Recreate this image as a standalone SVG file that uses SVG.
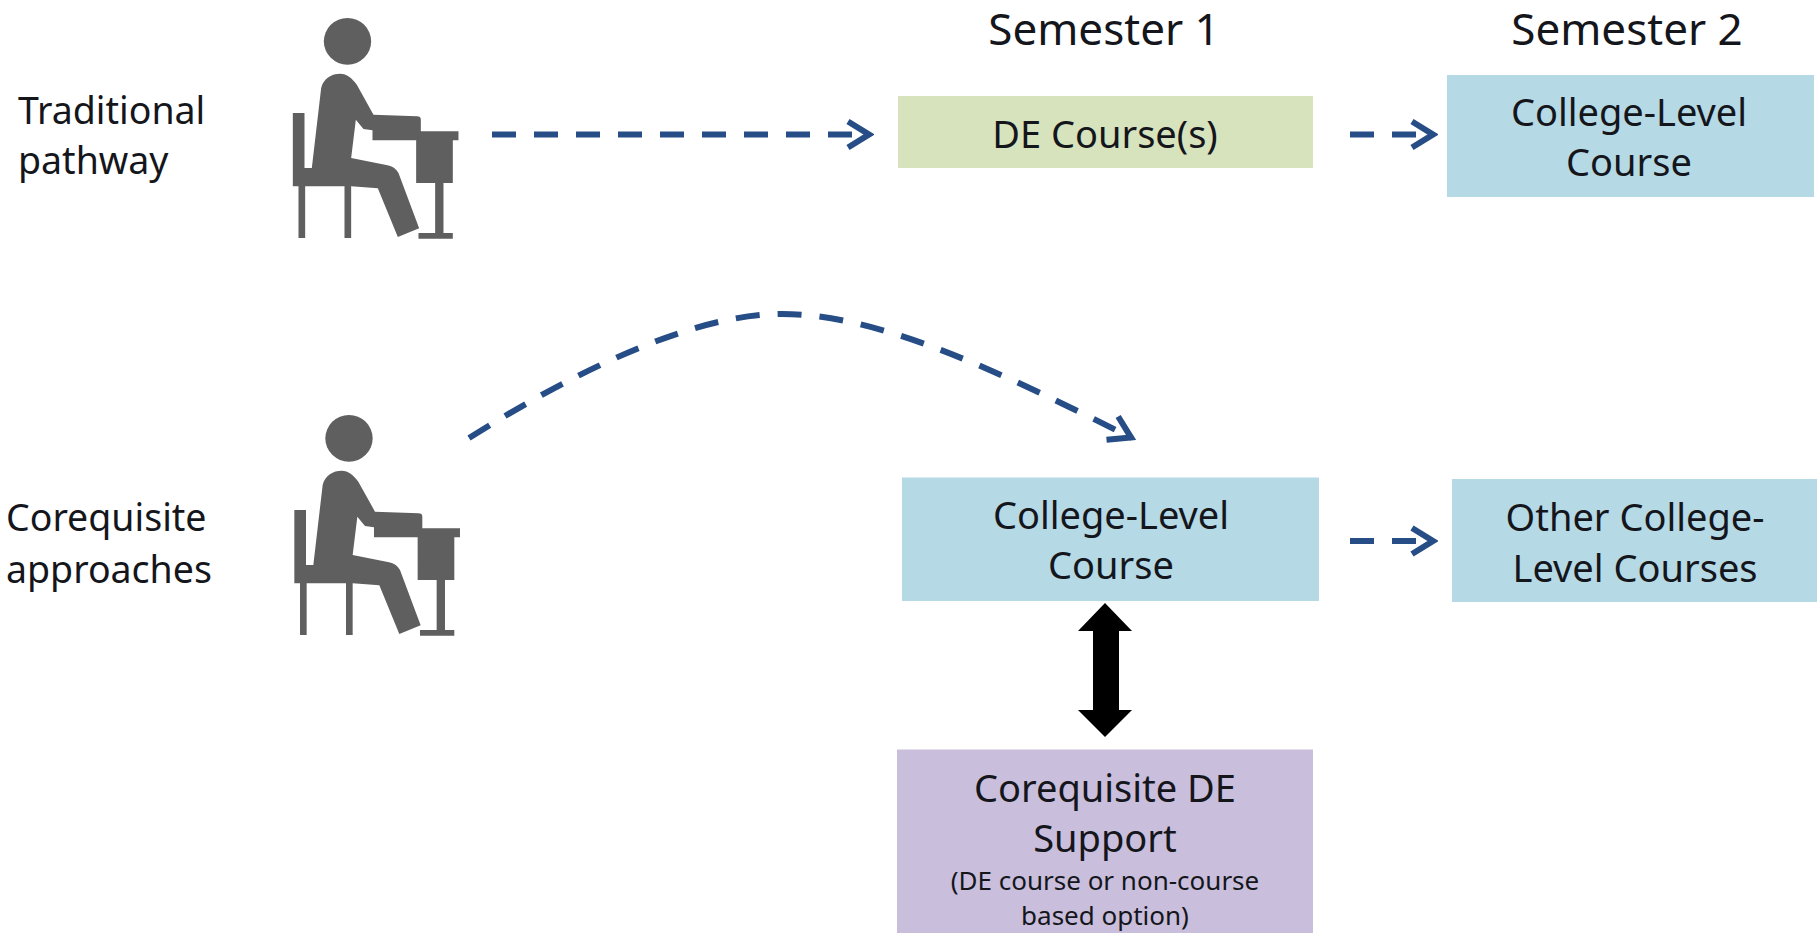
<svg xmlns="http://www.w3.org/2000/svg" width="1817" height="933" viewBox="0 0 1817 933">
<style>
text{font-family:"Noto Sans","Liberation Sans",sans-serif;fill:#14161c;text-anchor:middle}
.lg{font-size:38px}
.hd{font-size:44px}
.sm{font-size:26px}
.st{text-anchor:start;font-size:37.500px}
.box-g{fill:#d7e3bc}
.box-b{fill:#b5d9e5}
.box-p{fill:#c9bedb}
.dash{fill:none;stroke:#264d86;stroke-width:6;stroke-dasharray:24 18;marker-end:url(#chev)}
.fig{fill:#5f5f5f}
</style>
<defs>
<marker id="chev" markerUnits="userSpaceOnUse" markerWidth="34" markerHeight="36" viewBox="0 0 34 36" refX="30" refY="18" orient="auto">
<path d="M8,5 L29,18 L8,31" fill="none" stroke="#264d86" stroke-width="6"/>
</marker>
<g id="person" class="fig" transform="translate(270,400) scale(.3333)">
<ellipse cx="237" cy="115" rx="71" ry="70"/>
<path d="M215,212 C190,212 165,225 158,255 L130,495 L108,495 L108,330 L73,330 L73,550 L90,550 L90,705 L110,705 L110,550 L228,550 L228,705 L248,705 L248,550 L328,556 L388,702 L452,676 L390,510 C382,497 372,490 357,487 L248,465 L262,350 L285,378 L312,382 L312,412 L443,412 L443,540 L500,540 L500,690 L450,690 L450,707 L553,707 L553,690 L525,690 L525,540 L553,540 L553,412 L570,412 L570,385 L457,385 L457,350 Q457,340 445,340 L315,335 L265,245 C250,225 235,212 215,212 Z"/>
</g>
</defs>

<g id="header-1"><text class="hd" x="1104" y="45">Semester 1</text></g>
<g id="header-2"><text class="hd" x="1627" y="45">Semester 2</text></g>

<g id="label-traditional">
<text class="st" x="18" y="124">Traditional</text>
<text class="st" x="18" y="174">pathway</text>
</g>
<g id="label-corequisite">
<text class="st" x="6" y="531">Corequisite</text>
<text class="st" x="6" y="583">approaches</text>
</g>

<g id="person-1"><use href="#person" transform="translate(-1.5,-397)"/></g>
<g id="person-2"><use href="#person"/></g>

<g id="de-course">
<rect class="box-g" x="898" y="96" width="415" height="72"/>
<text class="lg" x="1105" y="148">DE Course(s)</text>
</g>
<g id="college-level-2">
<rect class="box-b" x="1447" y="75" width="367" height="122"/>
<text class="lg" x="1629" y="126">College-Level</text>
<text class="lg" x="1629" y="176">Course</text>
</g>
<g id="college-level-1">
<rect class="box-b" x="902" y="477.500" width="417" height="123.500"/>
<text class="lg" x="1111" y="529">College-Level</text>
<text class="lg" x="1111" y="579">Course</text>
</g>
<g id="other-college">
<rect class="box-b" x="1452" y="479" width="365" height="123"/>
<text class="lg" x="1635" y="531">Other College-</text>
<text class="lg" x="1635" y="582">Level Courses</text>
</g>
<g id="corequisite-support">
<rect class="box-p" x="897" y="749.500" width="416" height="183.500"/>
<text class="lg" x="1105" y="802">Corequisite DE</text>
<text class="lg" x="1105" y="852">Support</text>
<text class="sm" x="1105" y="890">(DE course or non-course</text>
<text class="sm" x="1105" y="925">based option)</text>
</g>

<g id="connectors">
<path class="dash" d="M492,134.500 H870"/>
<path class="dash" d="M1350,134.500 H1434"/>
<path class="dash" d="M1350,541 H1434"/>
<path class="dash" d="M469,438 C590,362 700,314 782,314 C880,314 1000,372 1132,438"/>
<path d="M1105,603 L1132,631 L1119,631 L1119,710 L1132,710 L1105,737 L1078,710 L1093,710 L1093,631 L1078,631 Z" fill="#000"/>
</g>
</svg>
